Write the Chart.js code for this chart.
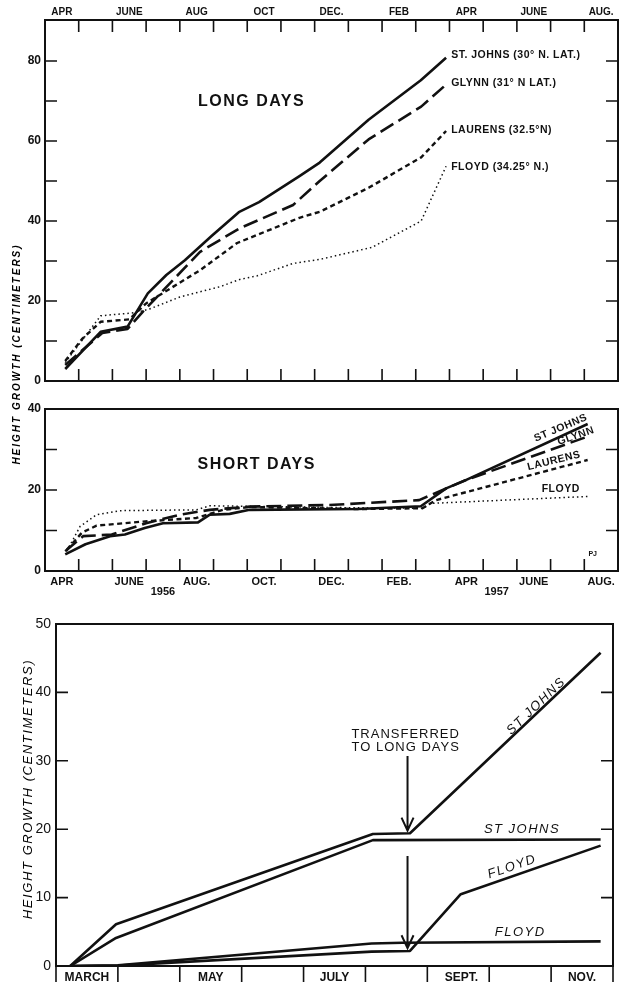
<!DOCTYPE html>
<html>
<head>
<meta charset="utf-8">
<script src="https://cdn.jsdelivr.net/npm/chart.js@4.4.0/dist/chart.umd.min.js"></script>
<style>
body { margin: 0; background: #fff; }
#hoja { position: relative; width: 628px; height: 987px; background: #fff; overflow: hidden; }
canvas { position: absolute; left: 0; }
.titulo-y { position: absolute; transform: translate(-50%, -50%) rotate(-90deg); white-space: nowrap;
  font-family: 'Liberation Sans', 'DejaVu Sans', sans-serif; font-style: italic; color: #000; }
</style>
</head>
<body>
<div id="hoja">
  <canvas id="graf-largos" width="628" height="395" style="top:0"></canvas>
  <canvas id="graf-cortos" width="628" height="210" style="top:395px"></canvas>
  <canvas id="graf-traslado" width="628" height="382" style="top:605px"></canvas>
  <div class="titulo-y" style="left:16px;top:354px;font-size:10px;font-weight:bold;letter-spacing:2px">HEIGHT GROWTH (CENTIMETERS)</div>
  <div class="titulo-y" style="left:27px;top:789px;font-size:13px;letter-spacing:1.6px">HEIGHT GROWTH (CENTIMETERS)</div>
</div>
<script>
const NEGRO = '#111';
const FUENTE = "'Liberation Sans', 'DejaVu Sans', sans-serif";

// ---- paneles de arriba: meses contados desde el 1 de abril de 1956 ----
const limitesMes = [1, 2, 3, 4, 5, 6, 7, 8, 9, 10, 11, 12, 13, 14, 15, 16];
const centrosMes = [0.5, 2.5, 4.5, 6.5, 8.5, 10.5, 12.5, 14.5, 16.5];
const mesesArriba = ['APR', 'JUNE', 'AUG', 'OCT', 'DEC.', 'FEB', 'APR', 'JUNE', 'AUG.'];
const mesesAbajo = ['APR', 'JUNE', 'AUG.', 'OCT.', 'DEC.', 'FEB.', 'APR', 'JUNE', 'AUG.'];
const yLargosEtiquetas = [0, 20, 40, 60, 80];
const yLargosMarcas = [10, 20, 30, 40, 50, 60, 70, 80];
const yCortosEtiquetas = [0, 20, 40];
const yCortosMarcas = [10, 20, 30];

// dias largos [mes, cm]
const largoStJohns = [[0.6, 3], [1.65, 12.3], [2.45, 13.6], [3.05, 21.9], [3.6, 26.5], [4.15, 30.2], [4.95, 36.3], [5.75, 42.2], [6.35, 44.7], [7.55, 51.2], [8.15, 54.6], [9.6, 65.3], [11.15, 75.2], [11.9, 80.8]];
const largoGlynn = [[0.6, 4], [1.7, 12], [2.45, 13], [2.9, 17.3], [4.6, 32.3], [5.78, 38.2], [7.36, 44], [8.15, 50], [9.6, 60.4], [11.16, 68.6], [11.9, 74.1]];
const largoLaurens = [[0.6, 5], [1.1, 10.5], [1.65, 14.8], [2.5, 15.4], [3.0, 19.4], [4.6, 27.7], [5.7, 34.5], [7.55, 40.8], [8.15, 42.3], [9.6, 48.3], [11.16, 55.9], [11.9, 62.5]];
const largoFloyd = [[0.6, 4.6], [1.65, 16.3], [2.7, 17.1], [3.1, 18], [4.0, 21], [5.2, 23.6], [5.78, 25.4], [6.3, 26.3], [7.36, 29.4], [8.15, 30.4], [9.7, 33.4], [11.16, 40], [11.9, 53.7]];

// dias cortos [mes, cm]
const cortoStJohns = [[0.6, 4.1], [1.2, 6.6], [1.93, 8.6], [2.37, 9.0], [2.96, 10.6], [3.5, 11.8], [4.54, 12.0], [4.89, 13.9], [5.48, 14.1], [6.07, 15.1], [9.3, 15.3], [11.15, 16.0], [11.9, 20.4], [12.5, 22.5], [16.1, 36.3]];
const cortoGlynn = [[0.6, 4.9], [1.13, 8.6], [1.98, 9.0], [3.0, 11.8], [4.0, 13.9], [4.89, 15.1], [6.07, 15.9], [8.44, 16.3], [11.1, 17.5], [12.5, 22.5], [16.1, 33.2]];
const cortoLaurens = [[0.65, 5.3], [1.1, 9.5], [1.53, 11.2], [2.9, 12.2], [4.49, 13.1], [5.28, 15.1], [6.07, 15.8], [9.3, 15.3], [11.2, 15.5], [11.6, 17.5], [16.1, 27.4]];
const cortoFloyd = [[0.65, 4.9], [1.04, 11.0], [1.53, 13.9], [2.22, 14.9], [4.49, 15.1], [4.89, 16.1], [9.3, 15.6], [11.2, 15.5], [11.45, 16.7], [16.1, 18.4]];

// ---- panel de abajo: meses desde el 1 de marzo ----
const limitesTraslado = [1, 2, 3, 4, 5, 6, 7, 8];
const centrosTraslado = [0.5, 2.5, 4.5, 6.55, 8.5];
const mesesTraslado = ['MARCH', 'MAY', 'JULY', 'SEPT.', 'NOV.'];
const yTrasEtiquetas = [0, 10, 20, 30, 40, 50];
const yTrasMarcas = [10, 20, 30, 40];

const trasStJohnsLargo = [[0.23, 0], [0.97, 6.1], [5.12, 19.3], [5.72, 19.4], [8.8, 45.8]];
const trasStJohnsCorto = [[0.23, 0], [0.97, 4.1], [5.12, 18.4], [8.8, 18.5]];
const trasFloydLargo = [[0.23, 0], [1.0, 0.05], [5.1, 2.1], [5.72, 2.2], [6.54, 10.5], [8.8, 17.6]];
const trasFloydCorto = [[0.23, 0], [1.0, 0.1], [5.1, 3.3], [5.6, 3.4], [8.8, 3.6]];

// estilos de linea
const SOLIDA = { ancho: 2.6, guion: [] };
const LARGA = { ancho: 2.6, guion: [15, 6] };
const CORTA = { ancho: 2.4, guion: [5, 3.5] };
const PUNTOS = { ancho: 1.5, guion: [1.5, 3] };

function serie(nombre, puntos, estilo) {
    return {
        label: nombre,
        data: puntos.map(p => ({ x: p[0], y: p[1] })),
        borderColor: NEGRO,
        borderWidth: estilo.ancho,
        borderDash: estilo.guion,
        borderCapStyle: 'butt',
        borderJoinStyle: 'round',
        pointRadius: 0,
        fill: false,
        tension: 0
    };
}

function ejeX(min, max, posiciones, nombres, lado, alto, fuente, relleno) {
    return {
        type: 'linear', position: lado, min: min, max: max,
        grid: { display: false, drawTicks: false }, border: { display: false },
        afterBuildTicks: eje => { eje.ticks = posiciones.map(v => ({ value: v })); },
        afterFit: eje => { eje.height = alto; },
        ticks: { autoSkip: false, maxRotation: 0, padding: relleno, color: NEGRO, font: fuente,
            callback: (v, i) => nombres[i] }
    };
}

function ejeY(min, max, valores, ancho, fuente, relleno) {
    return {
        type: 'linear', min: min, max: max,
        grid: { display: false, drawTicks: false }, border: { display: false },
        afterBuildTicks: eje => { eje.ticks = valores.map(v => ({ value: v })); },
        afterFit: eje => { eje.width = ancho; },
        ticks: { padding: relleno, color: NEGRO, font: fuente, callback: v => String(v) }
    };
}

// marco de la grafica
function marco(chart) {
    const { ctx, chartArea: a } = chart;
    ctx.save();
    ctx.strokeStyle = NEGRO;
    ctx.lineWidth = 2;
    ctx.strokeRect(a.left, a.top, a.right - a.left, a.bottom - a.top);
    ctx.restore();
}

// marcas cortas sobre el marco
function marcas(chart, valores, lado, largo) {
    const { ctx, chartArea: a } = chart;
    const sx = chart.scales.x, sy = chart.scales.y;
    ctx.save();
    ctx.strokeStyle = NEGRO;
    ctx.lineWidth = 1.6;
    ctx.beginPath();
    valores.forEach(v => {
        if (lado === 'izq') { const p = sy.getPixelForValue(v); ctx.moveTo(a.left, p); ctx.lineTo(a.left + largo, p); }
        if (lado === 'der') { const p = sy.getPixelForValue(v); ctx.moveTo(a.right, p); ctx.lineTo(a.right - largo, p); }
        if (lado === 'arriba') { const p = sx.getPixelForValue(v); ctx.moveTo(p, a.top); ctx.lineTo(p, a.top + largo); }
        if (lado === 'abajo') { const p = sx.getPixelForValue(v); ctx.moveTo(p, a.bottom); ctx.lineTo(p, a.bottom - largo); }
        if (lado === 'fuera') { const p = sx.getPixelForValue(v); ctx.moveTo(p, a.bottom); ctx.lineTo(p, a.bottom + largo); }
    });
    ctx.stroke();
    ctx.restore();
}

// texto colocado en coordenadas de los datos
function rotulo(chart, texto, mx, vy, fuente, angulo, alinear, espacio) {
    const ctx = chart.ctx;
    const x = chart.scales.x.getPixelForValue(mx);
    const y = chart.scales.y.getPixelForValue(vy);
    ctx.save();
    ctx.translate(x, y);
    ctx.rotate((angulo || 0) * Math.PI / 180);
    ctx.font = fuente;
    ctx.fillStyle = NEGRO;
    ctx.textAlign = alinear || 'center';
    ctx.textBaseline = 'middle';
    if (espacio) ctx.letterSpacing = espacio + 'px';
    ctx.fillText(texto, 0, 0);
    ctx.restore();
}

function flecha(chart, mx, desde, hasta) {
    const ctx = chart.ctx;
    const x = chart.scales.x.getPixelForValue(mx);
    const y1 = chart.scales.y.getPixelForValue(desde);
    const y2 = chart.scales.y.getPixelForValue(hasta);
    ctx.save();
    ctx.strokeStyle = NEGRO;
    ctx.lineWidth = 2;
    ctx.beginPath();
    ctx.moveTo(x, y1); ctx.lineTo(x, y2);
    ctx.moveTo(x - 6, y2 - 13); ctx.lineTo(x, y2); ctx.lineTo(x + 6, y2 - 13);
    ctx.stroke();
    ctx.restore();
}

const opcionesBase = {
    responsive: false,
    animation: false,
    devicePixelRatio: 1,
    plugins: { legend: { display: false }, tooltip: { enabled: false } }
};

// ---- dias largos ----
new Chart(document.getElementById('graf-largos'), {
    type: 'line',
    data: { datasets: [
        serie('St. Johns', largoStJohns, SOLIDA),
        serie('Glynn', largoGlynn, LARGA),
        serie('Laurens', largoLaurens, CORTA),
        serie('Floyd', largoFloyd, PUNTOS)
    ] },
    options: Object.assign({}, opcionesBase, {
        layout: { padding: { top: 0, right: 10, bottom: 14, left: 0 } },
        scales: {
            x: ejeX(0, 17, centrosMes, mesesArriba, 'top', 20, { family: FUENTE, size: 10, weight: 'bold' }, 2),
            y: ejeY(0, 90.25, yLargosEtiquetas, 45, { family: FUENTE, size: 12, weight: 'bold' }, 4)
        }
    }),
    plugins: [{
        id: 'adornos',
        afterDraw(c) {
            marco(c);
            marcas(c, limitesMes, 'arriba', 12);
            marcas(c, limitesMes, 'abajo', 12);
            marcas(c, yLargosMarcas, 'izq', 12);
            marcas(c, yLargosMarcas, 'der', 12);
            rotulo(c, 'LONG DAYS', 6.13, 69.8, 'bold 16px ' + FUENTE, 0, 'center', 1.5);
            const f = 'bold 10.5px ' + FUENTE;
            rotulo(c, 'ST. JOHNS (30° N. LAT.)', 12.05, 81.5, f, 0, 'left', 0.5);
            rotulo(c, 'GLYNN (31° N LAT.)', 12.05, 74.5, f, 0, 'left', 0.5);
            rotulo(c, 'LAURENS (32.5°N)', 12.05, 62.75, f, 0, 'left', 0.5);
            rotulo(c, 'FLOYD (34.25° N.)', 12.05, 53.5, f, 0, 'left', 0.5);
        }
    }]
});

// ---- dias cortos ----
new Chart(document.getElementById('graf-cortos'), {
    type: 'line',
    data: { datasets: [
        serie('St. Johns', cortoStJohns, SOLIDA),
        serie('Glynn', cortoGlynn, LARGA),
        serie('Laurens', cortoLaurens, CORTA),
        serie('Floyd', cortoFloyd, PUNTOS)
    ] },
    options: Object.assign({}, opcionesBase, {
        layout: { padding: { top: 14, right: 10, bottom: 0, left: 0 } },
        scales: {
            x: ejeX(0, 17, centrosMes, mesesAbajo, 'bottom', 34, { family: FUENTE, size: 11, weight: 'bold' }, 4),
            y: ejeY(0, 40, yCortosEtiquetas, 45, { family: FUENTE, size: 12, weight: 'bold' }, 4)
        }
    }),
    plugins: [{
        id: 'adornos',
        afterDraw(c) {
            marco(c);
            marcas(c, limitesMes, 'abajo', 12);
            marcas(c, yCortosMarcas, 'izq', 12);
            marcas(c, yCortosMarcas, 'der', 12);
            rotulo(c, 'SHORT DAYS', 6.28, 26.2, 'bold 16px ' + FUENTE, 0, 'center', 1.5);
            const f = 'bold 10.5px ' + FUENTE;
            rotulo(c, 'ST JOHNS', 15.3, 35.3, f, -23, 'center', 0.5);
            rotulo(c, 'GLYNN', 15.75, 33.3, f, -19, 'center', 0.5);
            rotulo(c, 'LAURENS', 15.1, 27.2, f, -14, 'center', 0.5);
            rotulo(c, 'FLOYD', 15.3, 20.2, f, 0, 'center', 0.5);
            rotulo(c, 'PJ', 16.25, 4.2, 'bold 7px ' + FUENTE, 0, 'center');
            // anos bajo los meses
            const ctx = c.ctx, sx = c.scales.x;
            ctx.save();
            ctx.font = 'bold 11px ' + FUENTE;
            ctx.fillStyle = NEGRO;
            ctx.textAlign = 'center';
            ctx.textBaseline = 'middle';
            ctx.fillText('1956', sx.getPixelForValue(3.5), c.chartArea.bottom + 21);
            ctx.fillText('1957', sx.getPixelForValue(13.4), c.chartArea.bottom + 21);
            ctx.restore();
        }
    }]
});

// ---- traslado a dias largos ----
new Chart(document.getElementById('graf-traslado'), {
    type: 'line',
    data: { datasets: [
        serie('St Johns largos', trasStJohnsLargo, SOLIDA),
        serie('St Johns cortos', trasStJohnsCorto, SOLIDA),
        serie('Floyd largos', trasFloydLargo, SOLIDA),
        serie('Floyd cortos', trasFloydCorto, SOLIDA)
    ] },
    options: Object.assign({}, opcionesBase, {
        layout: { padding: { top: 19, right: 15, bottom: 0, left: 0 } },
        scales: {
            x: ejeX(0, 9, centrosTraslado, mesesTraslado, 'bottom', 21, { family: FUENTE, size: 12, weight: 'bold' }, 4),
            y: ejeY(0, 50, yTrasEtiquetas, 56, { family: FUENTE, size: 14 }, 5)
        }
    }),
    plugins: [{
        id: 'adornos',
        afterDraw(c) {
            marco(c);
            marcas(c, limitesTraslado, 'fuera', 16);
            marcas(c, yTrasMarcas, 'izq', 12);
            marcas(c, yTrasMarcas, 'der', 12);
            // el eje izquierdo y el derecho bajan un poco del cero
            const ctx = c.ctx, a = c.chartArea;
            ctx.save();
            ctx.strokeStyle = NEGRO;
            ctx.lineWidth = 1.6;
            ctx.beginPath();
            ctx.moveTo(a.left, a.bottom); ctx.lineTo(a.left, a.bottom + 16);
            ctx.moveTo(a.right, a.bottom); ctx.lineTo(a.right, a.bottom + 16);
            ctx.stroke();
            ctx.restore();
            const f = '13px ' + FUENTE;
            rotulo(c, 'TRANSFERRED', 5.65, 33.9, f, 0, 'center', 1);
            rotulo(c, 'TO LONG DAYS', 5.65, 31.9, f, 0, 'center', 1);
            flecha(c, 5.68, 30.7, 19.8);
            flecha(c, 5.68, 16.1, 2.6);
            const fi = 'italic 13px ' + FUENTE;
            rotulo(c, 'ST JOHNS', 7.76, 38.0, fi, -44, 'center', 1.5);
            rotulo(c, 'ST JOHNS', 7.53, 19.9, fi, 0, 'center', 1.5);
            rotulo(c, 'FLOYD', 7.37, 14.5, fi, -19, 'center', 1.5);
            rotulo(c, 'FLOYD', 7.5, 4.9, fi, 0, 'center', 1.5);
        }
    }]
});
</script>
</body>
</html>
